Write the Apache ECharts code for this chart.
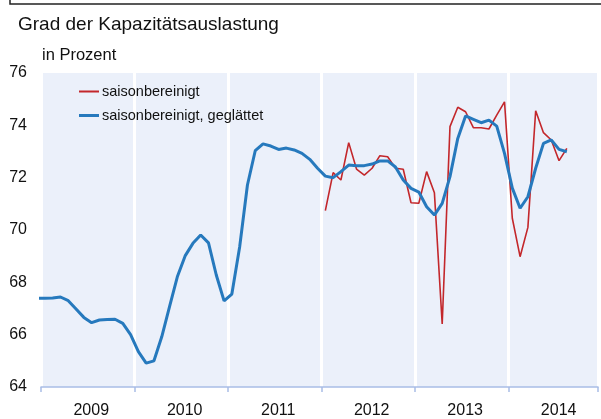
<!DOCTYPE html>
<html>
<head>
<meta charset="utf-8">
<script src="https://cdn.jsdelivr.net/npm/echarts@6/dist/echarts.min.js"></script>
<style>
  html, body { margin: 0; padding: 0; background: #fff; }
  #container { width: 601px; height: 419px; }
</style>
</head>
<body>
<div id="container"></div>
<script>
var dom = document.getElementById("container");
var myChart = echarts.init(dom);

// months counted from Jan 2009 (0); first blue value is Dec 2008
var years = ['2009', '2010', '2011', '2012', '2013', '2014'];
var yTicks = [64, 66, 68, 70, 72, 74, 76];

var smoothStart = -1;
var smoothed = [
    67.39, 67.39, 67.40, 67.44, 67.30, 66.98, 66.66, 66.46, 66.56, 66.58, 66.59, 66.43, 66.00,
    65.35, 64.91, 65.00, 65.92, 67.07, 68.21, 69.01, 69.49, 69.81, 69.51, 68.28, 67.29,
    67.55, 69.35, 71.72, 73.03, 73.29, 73.21, 73.08, 73.13, 73.06, 72.93, 72.70, 72.36,
    72.06, 72.00, 72.23, 72.48, 72.46, 72.46, 72.52, 72.64, 72.64, 72.41, 71.91, 71.59,
    71.45, 70.89, 70.57, 71.02, 72.04, 73.50, 74.36, 74.23, 74.10, 74.20, 73.97, 72.93,
    71.60, 70.83, 71.27, 72.36, 73.31, 73.44, 73.08, 72.99
];

var adjStart = 36;
var adjusted = [
    70.74, 72.19, 71.91, 73.34, 72.33, 72.10, 72.36, 72.84, 72.80, 72.36, 72.32, 71.04,
    71.02, 72.23, 71.42, 66.41, 73.95, 74.69, 74.52, 73.91, 73.91, 73.86, 74.39, 74.90,
    70.45, 68.98, 70.10, 74.56, 73.72, 73.44, 72.65, 73.12
];

function toPoints(start, values) {
    return values.map(function (v, i) {
        return [start + i + 0.5, v];
    });
}

var font = 'Liberation Sans, Arial, sans-serif';
var red = '#c3272b';
var blue = '#2679bd';

function legendFor(name, top, thick) {
    return {
        orient: 'vertical',
        left: 79,
        top: top,
        icon: 'rect',
        itemWidth: 20,
        itemHeight: thick,
        padding: 0,
        textStyle: { fontSize: 14.5, color: '#111', fontFamily: font, padding: [0, 0, 0, -2] },
        data: [name]
    };
}

option = {
    animation: false,
    textStyle: { fontFamily: font },
    title: {
        text: 'Grad der Kapazitätsauslastung',
        left: 13,
        top: 10,
        textStyle: { fontSize: 19, fontWeight: 'normal', color: '#111', fontFamily: font }
    },
    graphic: [
        {
            type: 'polyline',
            shape: { points: [[10, 0], [10, 4], [601, 4]] },
            style: { stroke: '#222', lineWidth: 1.5, fill: null }
        },
        {
            type: 'text',
            left: 42,
            top: 47,
            style: { text: 'in Prozent', fontSize: 16.5, fill: '#111', fontFamily: font }
        }
    ],
    legend: [
        legendFor('saisonbereinigt', 84, 2),
        legendFor('saisonbereinigt, geglättet', 108, 3)
    ],
    grid: {
        left: 41,
        top: 73,
        width: 560,
        height: 314,
        show: true,
        backgroundColor: '#ebf0fa',
        borderWidth: 0
    },
    xAxis: [
        {
            type: 'value',
            min: 0,
            max: 71.5,
            interval: 12,
            axisLine: { show: true, lineStyle: { color: '#a9bde6', width: 1.5 } },
            axisTick: { show: true, length: 5, lineStyle: { color: '#a9bde6', width: 1.5 } },
            axisLabel: { show: false },
            splitLine: { show: true, lineStyle: { color: '#ffffff', width: 3 } }
        },
        {
            type: 'value',
            min: 0,
            max: 71.5,
            interval: 6,
            position: 'bottom',
            axisLine: { show: false },
            axisTick: { show: false },
            splitLine: { show: false },
            axisLabel: {
                show: true,
                fontSize: 16,
                color: '#111',
                fontFamily: font,
                margin: 16,
                padding: [0, 0, 0, 7],
                formatter: function (v) {
                    if (v % 12 === 6) {
                        return years[(v - 6) / 12];
                    }
                    return '';
                }
            }
        }
    ],
    yAxis: {
        type: 'value',
        min: yTicks[0],
        max: yTicks[yTicks.length - 1],
        interval: 2,
        axisLine: { show: false },
        axisTick: { show: false },
        splitLine: { show: false },
        axisLabel: { fontSize: 16, color: '#111', fontFamily: font, margin: 14 }
    },
    series: [
        {
            name: 'saisonbereinigt',
            type: 'line',
            xAxisIndex: 0,
            symbol: 'none',
            clip: true,
            data: toPoints(adjStart, adjusted),
            lineStyle: { color: red, width: 1.6 },
            itemStyle: { color: red },
            z: 3
        },
        {
            name: 'saisonbereinigt, geglättet',
            type: 'line',
            xAxisIndex: 0,
            symbol: 'none',
            clip: true,
            data: toPoints(smoothStart, smoothed),
            lineStyle: { color: blue, width: 3 },
            itemStyle: { color: blue },
            z: 4
        }
    ]
};

if (option && typeof option === "object") {
    myChart.setOption(option, true);
}
</script>
</body>
</html>
